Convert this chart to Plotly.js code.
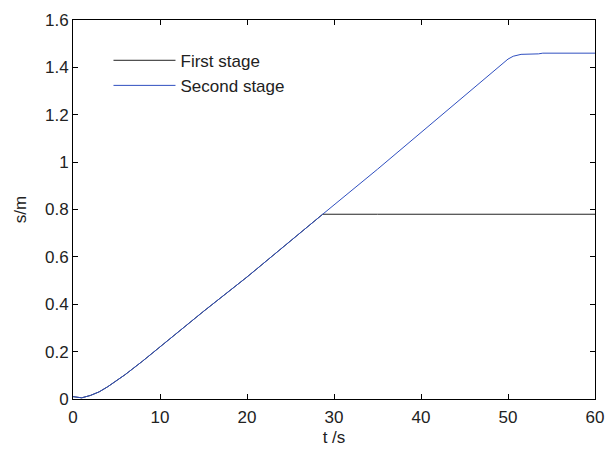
<!DOCTYPE html>
<html>
<head>
<meta charset="utf-8">
<script src="https://cdn.plot.ly/plotly-3.0.1.min.js"></script>
<style>html,body{margin:0;padding:0;background:#fff;}#chart{width:613px;height:449px;}</style>
</head>
<body>
<div id="chart"></div>
<script>
// First stage (t in s, s in m)
const tFirst = [0, 1, 2, 3, 4, 5, 6, 8, 10, 12, 15, 20, 25, 28.7, 35, 40, 45, 50, 55, 60];
const sFirst = [0.01, 0.005, 0.015, 0.03, 0.052, 0.077, 0.103, 0.16, 0.22, 0.28, 0.37, 0.515, 0.665, 0.78, 0.78, 0.78, 0.78, 0.78, 0.78, 0.78];
// Second stage
const tSecond = [0, 1, 2, 3, 4, 5, 6, 8, 10, 12, 15, 20, 25, 28.7, 35, 40, 45, 50, 50.6, 51.5, 53.5, 54, 60];
const sSecond = [0.01, 0.005, 0.015, 0.03, 0.052, 0.077, 0.103, 0.16, 0.22, 0.28, 0.37, 0.515, 0.665, 0.78, 0.97, 1.125, 1.28, 1.435, 1.447, 1.455, 1.457, 1.46, 1.46];
const xTicks = [0, 10, 20, 30, 40, 50, 60];
const yTicks = [0, 0.2, 0.4, 0.6, 0.8, 1, 1.2, 1.4, 1.6];

const traces = [
  {x: tFirst, y: sFirst, mode: 'lines', name: 'First stage', legendgroup: 'a',
   line: {color: '#222222', width: 1}},
  {x: tSecond, y: sSecond, mode: 'lines', name: 'Second stage', legendgroup: 'b',
   line: {color: '#2f4fc0', width: 1}}
];

const FONT = 'Liberation Sans, Arial, sans-serif';
const axisCommon = {
  showline: true, linecolor: '#000', linewidth: 1, mirror: 'ticks',
  ticks: 'inside', ticklen: 5, tickcolor: '#000', tickwidth: 1,
  showgrid: false, zeroline: false,
  tickfont: {family: FONT, size: 17, color: '#222'}
};

const layout = {
  width: 613, height: 449,
  margin: {l: 73, r: 18, t: 20, b: 50},
  paper_bgcolor: '#fff', plot_bgcolor: '#fff',
  showlegend: true,
  legend: {x: 0.068, y: 0.94, xanchor: 'left', yanchor: 'top', bgcolor: 'rgba(0,0,0,0)',
           borderwidth: 0, traceorder: 'grouped', tracegroupgap: 0, itemwidth: 62,
           font: {family: FONT, size: 17, color: '#222'}},
  xaxis: Object.assign({}, axisCommon, {range: [0, 60], tickvals: xTicks, ticktext: xTicks.map(String),
    ticklabelstandoff: 3,
    title: {text: 't /s', standoff: 4, font: {family: FONT, size: 17, color: '#222'}}}),
  yaxis: Object.assign({}, axisCommon, {range: [0, 1.6], tickvals: yTicks, ticktext: yTicks.map(String),
    title: {text: 's/m', standoff: 14, font: {family: FONT, size: 17, color: '#222'}}})
};

Plotly.newPlot('chart', traces, layout, {staticPlot: true, displayModeBar: false});
</script>
</body>
</html>
